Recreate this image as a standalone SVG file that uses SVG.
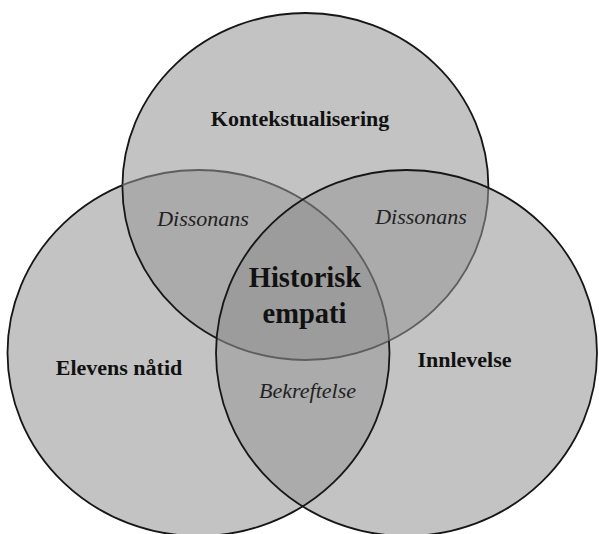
<svg xmlns="http://www.w3.org/2000/svg" xmlns:xlink="http://www.w3.org/1999/xlink" width="599" height="534" viewBox="0 0 599 534">
<style>
  .f1{fill:#c3c3c3}
  .f2{fill:#ababab}
  .f3{fill:#9c9c9c}
  .edge{fill:none;stroke:#161616;stroke-width:1.8}
  .soft{fill:none;stroke:#5e5e5e;stroke-width:1.8}
  .lbl{font-family:"Liberation Serif","Times New Roman",serif;font-weight:bold;font-size:22px;fill:#111;text-anchor:middle}
  .ital{font-family:"Liberation Serif","Times New Roman",serif;font-style:italic;font-size:22px;fill:#222;text-anchor:middle}
  .core{font-size:28.5px}
</style>
<defs>
  <ellipse id="eT" cx="305.4" cy="186.5" rx="183" ry="173.5"/>
  <ellipse id="eL" cx="198.5" cy="353" rx="191" ry="183"/>
  <ellipse id="eR" cx="406.5" cy="353" rx="190.5" ry="183"/>
  <clipPath id="cT"><use href="#eT"/></clipPath>
  <clipPath id="cL"><use href="#eL"/></clipPath>
  <clipPath id="cR"><use href="#eR"/></clipPath>
  <mask id="mNotT" maskUnits="userSpaceOnUse" x="0" y="0" width="599" height="534"><rect width="599" height="534" fill="#fff"/><use href="#eT" fill="#000"/></mask>
  <mask id="mNotR" maskUnits="userSpaceOnUse" x="0" y="0" width="599" height="534"><rect width="599" height="534" fill="#fff"/><use href="#eR" fill="#000"/></mask>
</defs>
<rect width="599" height="534" fill="#fff"/>

<g id="node-kontekstualisering">
  <use href="#eT" class="f1"/>
  <text class="lbl" x="300" y="126">Kontekstualisering</text>
</g>
<g id="node-elevens-natid">
  <use href="#eL" class="f1"/>
  <text class="lbl" x="119" y="375">Elevens nåtid</text>
</g>
<g id="node-innlevelse">
  <use href="#eR" class="f1"/>
  <text class="lbl" x="464.5" y="367">Innlevelse</text>
</g>

<g id="overlap-dissonans-left">
  <use href="#eL" class="f2" clip-path="url(#cT)"/>
  <text class="ital" x="203" y="226">Dissonans</text>
</g>
<g id="overlap-dissonans-right">
  <use href="#eR" class="f2" clip-path="url(#cT)"/>
  <text class="ital" x="421" y="224">Dissonans</text>
</g>
<g id="overlap-bekreftelse">
  <use href="#eR" class="f2" clip-path="url(#cL)"/>
  <text class="ital" x="307.5" y="398">Bekreftelse</text>
</g>
<g id="overlap-historisk-empati">
  <g clip-path="url(#cL)"><use href="#eR" class="f3" clip-path="url(#cT)"/></g>
  <text class="lbl core" x="305" y="287">Historisk</text>
  <text class="lbl core" x="304.5" y="323">empati</text>
</g>

<g id="connectors">
  <use href="#eT" class="edge" mask="url(#mNotR)"/>
  <use href="#eT" class="soft" clip-path="url(#cR)"/>
  <use href="#eL" class="edge" mask="url(#mNotT)"/>
  <use href="#eL" class="soft" clip-path="url(#cT)"/>
  <use href="#eR" class="edge"/>
</g>
</svg>
